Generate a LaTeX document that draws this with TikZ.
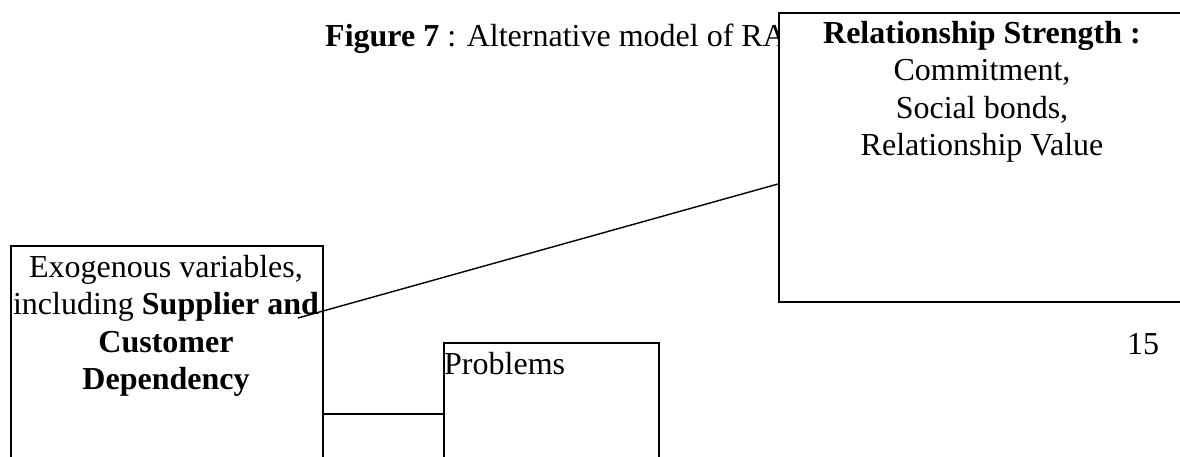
\documentclass[tikz,border=0pt]{standalone}
\usepackage{fontspec}
\setmainfont{Liberation Serif}
\begin{document}
\begin{tikzpicture}[x=1pt,y=-1pt,
  every node/.style={font=\fontsize{32}{37.5}\selectfont},
  boxframe/.style={draw=black,line width=1.6pt,fill=white,rectangle,inner sep=0pt},
  boxtext/.style={inner sep=0pt,align=center},
  link/.style={draw=black,line width=1.4pt}]
\useasboundingbox (0,0) rectangle (1180,457);
\clip (0,0) rectangle (1180,457);

% heading, partly hidden behind the right-hand box
\node[inner sep=0pt,anchor=base west] (title) at (325,47)
  {\textbf{Figure 7} : Alternative model of RA};

% left box: exogenous variables
\node[boxframe,minimum width=312pt,minimum height=240pt,anchor=north west] (exo) at (10,245) {};
\node[boxtext,anchor=north] (exotext) at (166,255)
  {Exogenous variables,\\ including \textbf{Supplier and}\\ \textbf{Customer}\\ \textbf{Dependency}};

% middle box: problems
\node[boxframe,minimum width=215pt,minimum height=140pt,anchor=north west] (prob) at (443,342) {};
\node[inner sep=0pt,anchor=base west] (probtext) at (444,374) {Problems};

% right box: relationship strength
\node[boxframe,minimum width=410pt,minimum height=289pt,anchor=north west] (rs) at (778,12) {};
\node[boxtext,anchor=north] (rstext) at (982,21)
  {\textbf{Relationship Strength :}\\ Commitment,\\ Social bonds,\\ Relationship Value};

% page number
\node[inner sep=0pt,anchor=base] (pagenum) at (1143,354) {15};

% connectors
\coordinate (exoout) at (298,318);
\coordinate (rsin) at (778,184);
\draw[link] (exoout) -- (rsin);
\draw[link] (exo.east |- 0,414) -- (prob.west |- 0,414);
\end{tikzpicture}
\end{document}
